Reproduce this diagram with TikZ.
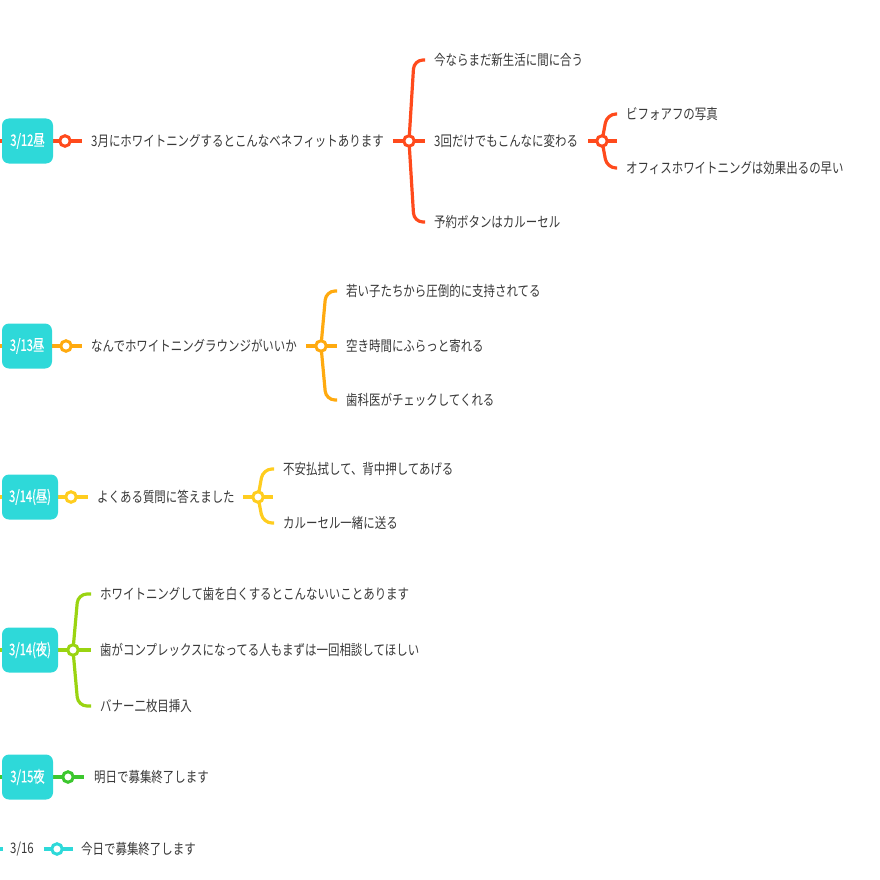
\documentclass[tikz,border=0pt]{standalone}
\usepackage{fontspec}
\newfontfamily\jpf[FakeStretch=0.79]{Noto Sans CJK JP}
\newfontfamily\jpbox[FakeStretch=0.7,FakeBold=0.6]{Noto Sans CJK JP}
\definecolor{cred}{HTML}{FF4A1C}
\definecolor{corange}{HTML}{FFAA0F}
\definecolor{cyellow}{HTML}{FFCD1F}
\definecolor{clime}{HTML}{9AD411}
\definecolor{cgreen}{HTML}{3CC72E}
\definecolor{ccyan}{HTML}{2ED9D9}
\definecolor{tgray}{HTML}{383838}
\pgfdeclarelayer{bg}\pgfsetlayers{bg,main}
\tikzset{
  datebox/.style={fill=ccyan, rounded corners=7pt, text=white, minimum height=45pt, inner sep=0pt,
    font=\jpbox\fontsize{16}{16}\selectfont},
  topic/.style={anchor=west, inner sep=0pt, text=tgray},
  knob/.style={circle, draw=#1, fill=white, line width=3pt, minimum size=10.5pt, inner sep=0pt},
  conn/.style={draw=#1, line width=3.2pt},
  branch/.style={draw=#1, line width=3.2pt, rounded corners=9pt, shorten >=9pt},
}
\begin{document}
\begin{tikzpicture}[x=1pt,y=-1pt,font=\jpf\fontsize{14.5}{15}\selectfont]
\useasboundingbox (0,0) rectangle (880,880);
% ---------- row 1 ----------
\coordinate (s1) at (0,141);
\node[datebox, minimum width=51pt] (b1) at (27.5,141) {3/12昼};
\node[topic] (t1) at (91,141) {3月にホワイトニングするとこんなベネフィットあります};
\node[knob=cred] (k1) at (65,141) {};
\node[knob=cred] (k2) at (409,141) {};
\node[topic] (t11) at (434,60) {今ならまだ新生活に間に合う};
\node[topic] (t12) at (434,141) {3回だけでもこんなに変わる};
\node[topic] (t13) at (434,222) {予約ボタンはカルーセル};
\node[knob=cred] (k3) at (602,141) {};
\node[topic] (t121) at (626,114) {ビフォアフの写真};
\node[topic] (t122) at (626,168) {オフィスホワイトニングは効果出るの早い};
% ---------- row 2 ----------
\coordinate (s2) at (0,346);
\node[datebox, minimum width=50pt] (b2) at (27,346) {3/13昼};
\node[topic] (t2) at (91,346) {なんでホワイトニングラウンジがいいか};
\node[knob=corange] (k21) at (66,346) {};
\node[knob=corange] (k22) at (321,346) {};
\node[topic] (t21) at (346,291) {若い子たちから圧倒的に支持されてる};
\node[topic] (t22) at (346,346) {空き時間にふらっと寄れる};
\node[topic] (t23) at (346,400) {歯科医がチェックしてくれる};
% ---------- row 3 ----------
\coordinate (s3) at (0,497);
\node[datebox, minimum width=56pt] (b3) at (30,497) {3/14(昼)};
\node[topic] (t3) at (97,497) {よくある質問に答えました};
\node[knob=cyellow] (k31) at (71,497) {};
\node[knob=cyellow] (k32) at (258,497) {};
\node[topic] (t31) at (283,469) {不安払拭して、背中押してあげる};
\node[topic] (t32) at (283,523) {カルーセル一緒に送る};
% ---------- row 4 ----------
\coordinate (s4) at (0,650);
\node[datebox, minimum width=56pt] (b4) at (30,650) {3/14(夜)};
\node[knob=clime] (k41) at (73,650) {};
\node[topic] (t41) at (100,594) {ホワイトニングして歯を白くするとこんないいことあります};
\node[topic] (t42) at (100,650) {歯がコンプレックスになってる人もまずは一回相談してほしい};
\node[topic] (t43) at (100,706) {バナー二枚目挿入};
% ---------- row 5 ----------
\coordinate (s5) at (0,777);
\node[datebox, minimum width=51pt] (b5) at (27.5,777) {3/15夜};
\node[knob=cgreen] (k51) at (68,777) {};
\node[topic] (t5) at (94,777) {明日で募集終了します};
% ---------- row 6 ----------
\coordinate (s6) at (0,849);
\coordinate (s6e) at (3,849);
\node[topic] (d6) at (10,849) {3/16};
\node[knob=ccyan] (k61) at (57,849) {};
\node[topic] (t6) at (81,849) {今日で募集終了します};
% ---------- connectors ----------
\begin{pgfonlayer}{bg}
\draw[conn=cred] (s1) -- (b1.west);
\draw[conn=cred, shorten >=9pt] (b1.east) -- (t1.west);
\draw[conn=cred, shorten <=9pt, shorten >=9pt] (t1.east) -- (t12.west);
\draw[branch=cred] (k2.center) -- (414,60) -- (t11.west);
\draw[branch=cred] (k2.center) -- (414,222) -- (t13.west);
\draw[conn=cred, shorten <=10pt, shorten >=9pt] (t12.east) -- (t121.west |- t12.west);
\draw[branch=cred] (k3.center) -- (607,114) -- (t121.west);
\draw[branch=cred] (k3.center) -- (607,168) -- (t122.west);
%
\draw[conn=corange] (s2) -- (b2.west);
\draw[conn=corange, shorten >=9pt] (b2.east) -- (t2.west);
\draw[conn=corange, shorten <=9pt, shorten >=9pt] (t2.east) -- (t22.west);
\draw[branch=corange] (k22.center) -- (326,291) -- (t21.west);
\draw[branch=corange] (k22.center) -- (326,400) -- (t23.west);
%
\draw[conn=cyellow] (s3) -- (b3.west);
\draw[conn=cyellow, shorten >=9pt] (b3.east) -- (t3.west);
\draw[conn=cyellow, shorten <=8pt, shorten >=10pt] (t3.east) -- (t31.west |- t3.west);
\draw[branch=cyellow] (k32.center) -- (263,469) -- (t31.west);
\draw[branch=cyellow] (k32.center) -- (263,523) -- (t32.west);
%
\draw[conn=clime] (s4) -- (b4.west);
\draw[conn=clime, shorten >=9pt] (b4.east) -- (t42.west);
\draw[branch=clime] (k41.center) -- (78,594) -- (t41.west);
\draw[branch=clime] (k41.center) -- (78,706) -- (t43.west);
%
\draw[conn=cgreen] (s5) -- (b5.west);
\draw[conn=cgreen, shorten >=10pt] (b5.east) -- (t5.west);
%
\draw[conn=ccyan] (s6) -- (s6e);
\draw[conn=ccyan, shorten <=10pt, shorten >=8pt] (d6.east) -- (t6.west);
\end{pgfonlayer}
\end{tikzpicture}
\end{document}
